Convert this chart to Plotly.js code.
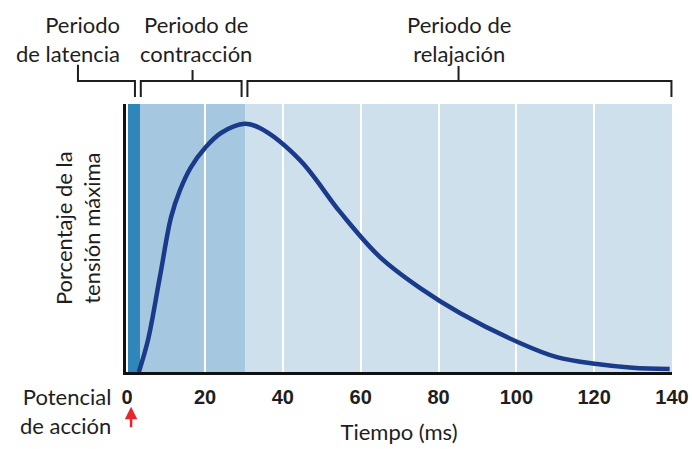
<!DOCTYPE html>
<html>
<head>
<meta charset="utf-8">
<script src="https://cdn.plot.ly/plotly-3.0.1.min.js"></script>
<style>html,body{margin:0;padding:0;background:#fff;}#chart{width:692px;height:449px;}</style>
</head>
<body>
<div id="chart"></div>
<script>
// Twitch curve
var timeMs = [3.0, 5.35, 8.4, 11.3, 13.6, 16.4, 20.0, 24.1, 30.2, 34.1, 44.4, 54.7, 64.9, 75.2, 85.5, 100.9, 110.4, 120.7, 129.9, 139.4];
var tension = [0, 12.9, 38.3, 62.5, 73.4, 82.6, 90.3, 96.3, 100, 98.3, 85.4, 64.5, 46.4, 33.9, 23.8, 11.7, 6, 3.2, 1.7, 1.2];

// Phases
var phaseNames = ['Periodo<br>de latencia', 'Periodo de<br>contracción', 'Periodo de<br>relajación'];
var phaseStart = [-0.3, 3.3, 30.3];
var phaseEnd = [3.3, 30.3, 140];
var phaseColors = ['#2f86b8', '#a5c8e0', '#cfe0ed'];

var xTicks = [0, 20, 40, 60, 80, 100, 120, 140];
var xRange = [-0.3, 140];
var yRange = [0, 108];

function px(t) { return (t - xRange[0]) / (xRange[1] - xRange[0]); }

var FONT = 'Lato, "Open Sans", sans-serif';
var INK = '#1e1e1e';

var shapes = [];
for (var i = 0; i < phaseStart.length; i++) {
  shapes.push({type: 'rect', layer: 'below', xref: 'x', yref: 'paper',
    x0: phaseStart[i], x1: phaseEnd[i], y0: 0, y1: 1,
    fillcolor: phaseColors[i], line: {width: 0}});
}

// brackets
var yBar = 1.086, yFoot = 1.026;
var br = {color: INK, width: 2};
// latency (L-shaped, stem on the left)
shapes.push({type: 'path', xref: 'paper', yref: 'paper',
  path: 'M ' + (-0.088) + ' 1.146 L ' + (-0.088) + ' ' + yBar + ' L ' + px(phaseEnd[0] - 1.3) + ' ' + yBar + ' L ' + px(phaseEnd[0] - 1.3) + ' ' + yFoot,
  line: br});
// contraction
var c0 = px(phaseStart[1] + 0.2), c1 = px(phaseEnd[1] - 0.9), cm = px((phaseStart[1] + phaseEnd[1]) / 2);
shapes.push({type: 'path', xref: 'paper', yref: 'paper',
  path: 'M ' + c0 + ' ' + yFoot + ' L ' + c0 + ' ' + yBar + ' L ' + c1 + ' ' + yBar + ' L ' + c1 + ' ' + yFoot,
  line: br});
shapes.push({type: 'line', xref: 'paper', yref: 'paper', x0: cm, x1: cm, y0: yBar, y1: 1.127, line: br});
// relaxation
var r0 = px(phaseStart[2] + 0.6), r1 = px(phaseEnd[2]) - 0.001, rm = px((phaseStart[2] + phaseEnd[2]) / 2);
shapes.push({type: 'path', xref: 'paper', yref: 'paper',
  path: 'M ' + r0 + ' ' + yFoot + ' L ' + r0 + ' ' + yBar + ' L ' + r1 + ' ' + yBar + ' L ' + r1 + ' ' + yFoot,
  line: br});
shapes.push({type: 'line', xref: 'paper', yref: 'paper', x0: rm, x1: rm, y0: yBar, y1: 1.142, line: br});

var labelFont = {family: FONT, size: 22, color: INK};
var annotations = [
  {text: phaseNames[0], xref: 'paper', yref: 'paper', x: -0.007, y: 1.243, xanchor: 'right', yanchor: 'middle', align: 'right', showarrow: false, font: labelFont},
  {text: phaseNames[1], xref: 'x', yref: 'paper', x: (phaseStart[1] + phaseEnd[1]) / 2 + 0.8, y: 1.243, xanchor: 'center', yanchor: 'middle', showarrow: false, font: labelFont},
  {text: phaseNames[2], xref: 'x', yref: 'paper', x: (phaseStart[2] + phaseEnd[2]) / 2, y: 1.243, xanchor: 'center', yanchor: 'middle', showarrow: false, font: labelFont},
  {text: 'Porcentaje de la<br>tensión máxima', xref: 'paper', yref: 'paper', x: -0.088, y: 0.537, textangle: -90, xanchor: 'center', yanchor: 'middle', showarrow: false, font: labelFont},
  {text: 'Potencial<br>de acción', xref: 'paper', yref: 'paper', x: -0.024, y: -0.145, xanchor: 'right', yanchor: 'middle', align: 'right', showarrow: false, font: labelFont},
  {text: '', xref: 'x', yref: 'paper', x: 1, y: -0.13, ax: 0, ay: 22, showarrow: true, arrowhead: 2, arrowsize: 1, arrowwidth: 2.5, arrowcolor: '#e8262b'}
];

var trace = {
  x: timeMs, y: tension, type: 'scatter', mode: 'lines',
  line: {color: '#1a3a8a', width: 4.5, shape: 'spline', smoothing: 1},
  hoverinfo: 'skip', cliponaxis: true
};

var layout = {
  width: 692, height: 449,
  margin: {l: 126, r: 20, t: 104, b: 77},
  paper_bgcolor: '#ffffff', plot_bgcolor: 'rgba(0,0,0,0)',
  showlegend: false,
  xaxis: {
    range: xRange, tickvals: xTicks, ticktext: xTicks.map(String),
    showgrid: true, gridcolor: '#ffffff', gridwidth: 2, zeroline: false,
    showline: true, linecolor: '#111', linewidth: 3,
    ticks: '', ticklabelstandoff: 5,
    tickfont: {family: '"Liberation Sans", Arial, sans-serif', size: 20, color: INK, weight: 'bold'},
    title: {text: 'Tiempo (ms)', font: labelFont, standoff: 18},
    fixedrange: true
  },
  yaxis: {
    range: yRange, showgrid: false, zeroline: false, showticklabels: false,
    showline: true, linecolor: '#111', linewidth: 3, ticks: '', fixedrange: true
  },
  shapes: shapes,
  annotations: annotations
};

Plotly.newPlot('chart', [trace], layout, {displayModeBar: false, staticPlot: true});
</script>
</body>
</html>
